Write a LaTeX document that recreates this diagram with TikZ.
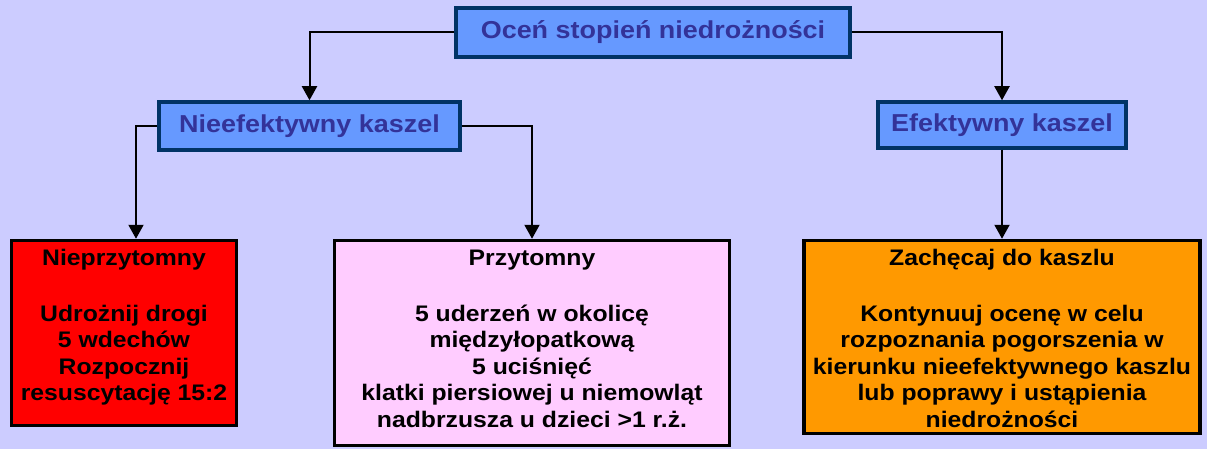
\documentclass[tikz,border=0pt]{standalone}
\usepackage{fontspec}
\setmainfont{Liberation Sans}[FakeStretch=1.1]
\usetikzlibrary{arrows.meta}
\definecolor{bgc}{RGB}{204,204,255}
\definecolor{bluefill}{RGB}{102,153,255}
\definecolor{blueborder}{RGB}{0,51,102}
\definecolor{bluetext}{RGB}{51,51,153}
\definecolor{redfill}{RGB}{255,0,0}
\definecolor{pinkfill}{RGB}{255,204,255}
\definecolor{orangefill}{RGB}{255,153,0}
\newcommand{\boxtext}[3]{\begin{minipage}[c][#2][t]{#1}\centering\fontsize{22.5}{26.5}\selectfont\bfseries #3\end{minipage}}
\begin{document}
\begin{tikzpicture}[x=1pt,y=-1pt,
  headbox/.style={draw=blueborder, line width=3.5pt, fill=bluefill, text=bluetext,
    font=\fontsize{24.5}{28}\selectfont\bfseries, inner sep=0pt, anchor=center},
  leafbox/.style={draw=black, line width=3.5pt, inner sep=0pt, text=black},
  conn/.style={draw=black, line width=2pt, -{Triangle[width=15pt,length=14pt]}}
]
\fill[bgc] (0,0) rectangle (1207,449);
\useasboundingbox (0,0) rectangle (1207,449);

\node[headbox, minimum width=394pt, minimum height=49pt] (top) at (653,32.5) {Oceń stopień niedrożności};
\node[headbox, minimum width=301pt, minimum height=48pt] (nie) at (309.5,126) {Nieefektywny kaszel};
\node[headbox, minimum width=248pt, minimum height=46pt] (ef) at (1002,125) {Efektywny kaszel};

\node[leafbox, fill=redfill] (nieprz) at (124,333)
  {\boxtext{225pt}{185pt}{\rule{0pt}{25pt}Nieprzytomny\\[29pt]Udrożnij drogi\\5 wdechów\\Rozpocznij\\resuscytację 15:2}};
\node[leafbox, fill=pinkfill] (przy) at (532,343)
  {\boxtext{395pt}{205pt}{\rule{0pt}{25pt}Przytomny\\[29pt]5 uderzeń w okolicę\\międzyłopatkową\\5 uciśnięć\\klatki piersiowej u niemowląt\\nadbrzusza u dzieci >1 r.ż.}};
\node[leafbox, fill=orangefill] (zach) at (1002,337)
  {\boxtext{396pt}{193pt}{\rule{0pt}{25pt}Zachęcaj do kaszlu\\[29pt]Kontynuuj ocenę w celu\\rozpoznania pogorszenia w\\kierunku nieefektywnego kaszlu\\lub poprawy i ustąpienia\\niedrożności}};

\coordinate (c1) at (136,124);
\draw[conn] (top.west) -| (nie.north);
\draw[conn] (top.east) -| (ef.north);
\draw[conn] (nie.west) -- (nie.west -| c1) -- (c1 |- nieprz.north);
\draw[conn] (nie.east) -| (przy.north);
\draw[conn] (ef.south) -- (zach.north);
\end{tikzpicture}
\end{document}
